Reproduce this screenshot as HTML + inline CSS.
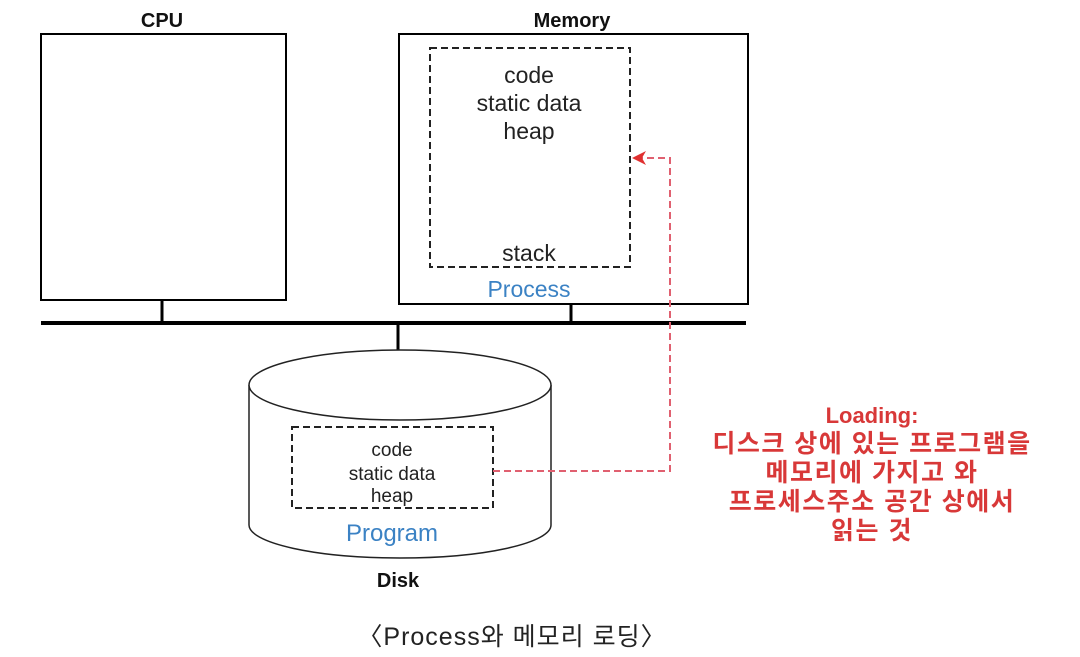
<!DOCTYPE html>
<html><head><meta charset="utf-8"><style>
body{margin:0;background:#fff;}
svg text{font-family:"Liberation Sans","Noto Sans CJK KR",sans-serif;}
</style></head><body>
<svg width="1080" height="652" viewBox="0 0 1080 652" xmlns="http://www.w3.org/2000/svg">
<rect x="41" y="34" width="245" height="266" fill="none" stroke="#000" stroke-width="2"/>
<rect x="399" y="34" width="349" height="270" fill="none" stroke="#000" stroke-width="2"/>
<rect x="430" y="48" width="200" height="219" fill="none" stroke="#222" stroke-width="2" stroke-dasharray="7,4"/>
<line x1="41" y1="323" x2="746" y2="323" stroke="#000" stroke-width="4"/>
<line x1="162" y1="300" x2="162" y2="323" stroke="#000" stroke-width="3"/>
<line x1="571" y1="304" x2="571" y2="323" stroke="#000" stroke-width="3"/>
<line x1="398" y1="323" x2="398" y2="352" stroke="#000" stroke-width="3"/>
<path d="M249 385 L249 525 A151 33 0 0 0 551 525 L551 385" fill="#fff" stroke="#222" stroke-width="1.5"/>
<ellipse cx="400" cy="385" rx="151" ry="35" fill="#fff" stroke="#222" stroke-width="1.5"/>
<rect x="292" y="427" width="201" height="81" fill="none" stroke="#222" stroke-width="2" stroke-dasharray="7,4"/>
<path d="M493 471 L670 471 L670 158 L640 158" fill="none" stroke="#e06070" stroke-width="2" stroke-dasharray="7,4"/>
<path d="M632 158 L646 151 L642 158 L646 165 Z" fill="#e03030"/>
<g font-size="20" font-weight="bold" text-anchor="middle" fill="#111">
<text x="162" y="27">CPU</text>
<text x="572" y="27">Memory</text>
<text x="398" y="587">Disk</text>
</g>
<g font-size="23" text-anchor="middle" fill="#222">
<text x="529" y="83">code</text>
<text x="529" y="111">static data</text>
<text x="529" y="139">heap</text>
<text x="529" y="261">stack</text>
</g>
<text x="529" y="297" font-size="23" text-anchor="middle" fill="#3b82c4">Process</text>
<g font-size="19" text-anchor="middle" fill="#222">
<text x="392" y="456">code</text>
<text x="392" y="480">static data</text>
<text x="392" y="502">heap</text>
</g>
<text x="392" y="541" font-size="24" text-anchor="middle" fill="#3b82c4">Program</text>
<g font-size="25" font-weight="bold" text-anchor="middle" fill="#d83838" letter-spacing="1.5">
<text x="872" y="423" font-size="22" letter-spacing="0">Loading:</text>
<text x="872" y="452">디스크 상에 있는 프로그램을</text>
<text x="872" y="481">메모리에 가지고 와</text>
<text x="872" y="510">프로세스주소 공간 상에서</text>
<text x="872" y="539">읽는 것</text>
</g>
<text x="512" y="645" font-size="25" text-anchor="middle" fill="#222" letter-spacing="1">〈Process와 메모리 로딩〉</text>
</svg>
</body></html>
